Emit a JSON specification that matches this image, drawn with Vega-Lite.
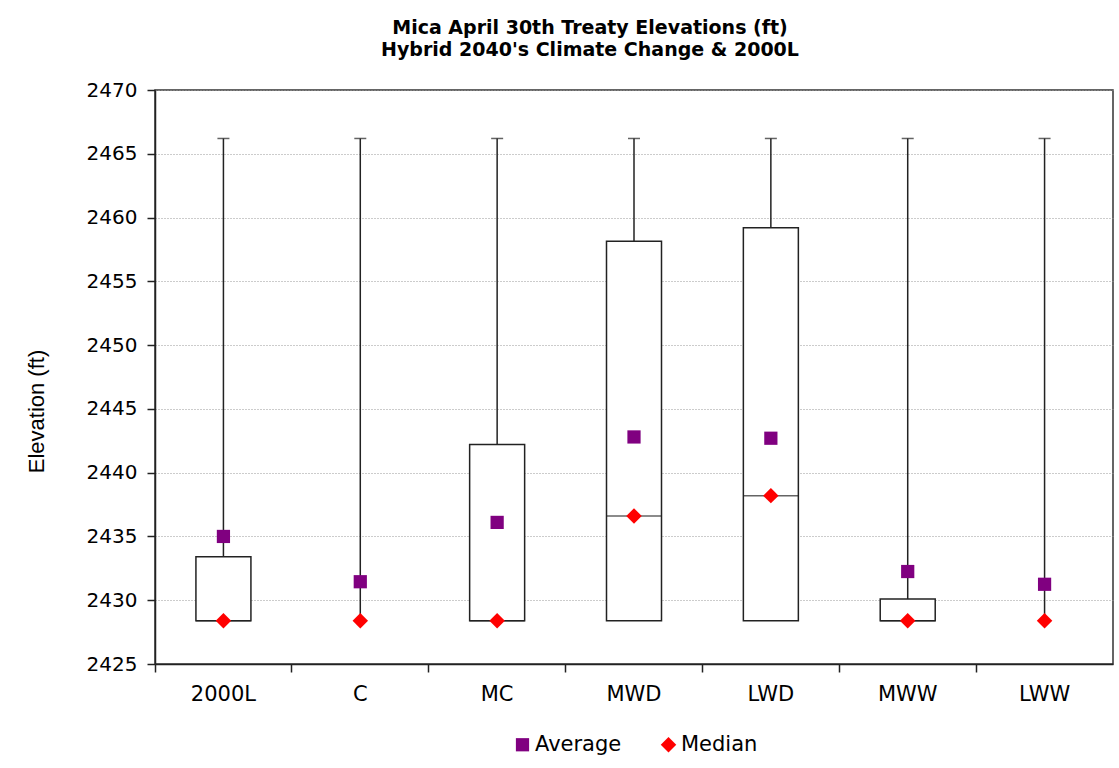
{
  "$schema": "https://vega.github.io/schema/vega-lite/v6.json",
  "width": 958,
  "height": 574,
  "autosize": "none",
  "padding": {"left": 155, "top": 90, "right": 6, "bottom": 104},
  "background": "white",
  "config": {"view": {"stroke": "#333", "strokeWidth": 1.5}, "font": "DejaVu Sans"},
  "title": {
    "text": "Mica April 30th Treaty Elevations (ft)",
    "subtitle": "Hybrid 2040's Climate Change & 2000L",
    "font": "DejaVu Sans",
    "subtitleFont": "DejaVu Sans",
    "fontSize": 19,
    "fontWeight": "bold",
    "color": "black",
    "subtitleFontSize": 19,
    "subtitleFontWeight": "bold",
    "subtitleColor": "black",
    "subtitlePadding": 3,
    "anchor": "middle",
    "dx": -44,
    "offset": 20
  },
  "datasets": {
    "stats": [
      {"cat": "2000L", "q1": 2428.4, "q3": 2433.4, "median": 2428.4, "max": 2466.2},
      {"cat": "C", "q1": 2428.4, "q3": 2428.4, "median": 2428.4, "max": 2466.2},
      {"cat": "MC", "q1": 2428.4, "q3": 2442.2, "median": 2428.4, "max": 2466.2},
      {"cat": "MWD", "q1": 2428.4, "q3": 2458.15, "median": 2436.6, "max": 2466.2},
      {"cat": "LWD", "q1": 2428.4, "q3": 2459.2, "median": 2438.2, "max": 2466.2},
      {"cat": "MWW", "q1": 2428.4, "q3": 2430.1, "median": 2428.4, "max": 2466.2},
      {"cat": "LWW", "q1": 2428.4, "q3": 2428.4, "median": 2428.4, "max": 2466.2}
    ],
    "points": [
      {"cat": "2000L", "stat": "Average", "value": 2435.0},
      {"cat": "C", "stat": "Average", "value": 2431.45},
      {"cat": "MC", "stat": "Average", "value": 2436.1},
      {"cat": "MWD", "stat": "Average", "value": 2442.8},
      {"cat": "LWD", "stat": "Average", "value": 2442.7},
      {"cat": "MWW", "stat": "Average", "value": 2432.25},
      {"cat": "LWW", "stat": "Average", "value": 2431.25},
      {"cat": "2000L", "stat": "Median", "value": 2428.4},
      {"cat": "C", "stat": "Median", "value": 2428.4},
      {"cat": "MC", "stat": "Median", "value": 2428.4},
      {"cat": "MWD", "stat": "Median", "value": 2436.6},
      {"cat": "LWD", "stat": "Median", "value": 2438.2},
      {"cat": "MWW", "stat": "Median", "value": 2428.4},
      {"cat": "LWW", "stat": "Median", "value": 2428.4}
    ]
  },
  "encoding": {
    "x": {
      "field": "cat",
      "type": "nominal",
      "sort": ["2000L", "C", "MC", "MWD", "LWD", "MWW", "LWW"],
      "scale": {"paddingInner": 0, "paddingOuter": 0},
      "axis": {
        "title": null,
        "labelAngle": 0,
        "labelFont": "DejaVu Sans",
        "labelFontSize": 21,
        "labelColor": "black",
        "labelPadding": 11,
        "tickSize": 8,
        "tickColor": "#222",
        "tickWidth": 1.5,
        "bandPosition": 0,
        "domainColor": "#222",
        "domainWidth": 1.5,
        "grid": false
      }
    }
  },
  "layer": [
    {
      "data": {"name": "stats"},
      "mark": {"type": "rule", "color": "#222", "strokeWidth": 1.5},
      "encoding": {
        "y": {
          "field": "q3",
          "type": "quantitative",
          "title": "Elevation (ft)",
          "scale": {"domain": [2425, 2470], "nice": false, "zero": false},
          "axis": {
            "values": [2425, 2430, 2435, 2440, 2445, 2450, 2455, 2460, 2465, 2470],
            "format": "d",
            "labelFont": "DejaVu Sans",
            "labelFontSize": 20,
            "labelColor": "black",
            "labelPadding": 10,
            "tickSize": 8,
            "tickColor": "#222",
            "tickWidth": 1.5,
            "domainColor": "#222",
            "domainWidth": 1.5,
            "grid": true,
            "gridColor": "#999",
            "gridDash": [1, 2],
            "gridWidth": 1,
            "titleFont": "Liberation Sans",
            "titleFontSize": 22,
            "titleFontWeight": "normal",
            "titleColor": "black",
            "titlePadding": 38,
            "titleY": 321
          }
        },
        "y2": {"field": "max"}
      }
    },
    {
      "data": {"name": "stats"},
      "mark": {"type": "tick", "color": "#222", "size": 12, "thickness": 1.5, "orient": "horizontal"},
      "encoding": {
        "y": {"field": "max", "type": "quantitative", "title": "Elevation (ft)"}
      }
    },
    {
      "data": {"name": "stats"},
      "transform": [{"filter": "datum.q3 > datum.q1"}],
      "mark": {"type": "bar", "fill": "white", "stroke": "#222", "strokeWidth": 1.5, "width": 55},
      "encoding": {
        "y": {"field": "q1", "type": "quantitative", "title": "Elevation (ft)"},
        "y2": {"field": "q3"}
      }
    },
    {
      "data": {"name": "stats"},
      "transform": [{"filter": "datum.q3 > datum.q1"}],
      "mark": {"type": "tick", "color": "#222", "size": 55, "thickness": 1.5, "orient": "horizontal"},
      "encoding": {
        "y": {"field": "median", "type": "quantitative", "title": "Elevation (ft)"}
      }
    },
    {
      "data": {"name": "points"},
      "mark": {"type": "point", "filled": true, "opacity": 1},
      "encoding": {
        "y": {"field": "value", "type": "quantitative", "title": "Elevation (ft)"},
        "size": {
          "field": "stat",
          "type": "nominal",
          "scale": {"domain": ["Average", "Median"], "range": [175, 240]},
          "legend": null
        },
        "color": {
          "field": "stat",
          "type": "nominal",
          "scale": {"domain": ["Average", "Median"], "range": ["#800080", "#FF0000"]},
          "legend": {
            "title": null,
            "orient": "none",
            "legendX": 357,
            "legendY": 644,
            "direction": "horizontal",
            "labelFont": "DejaVu Sans",
            "labelFontSize": 21,
            "labelColor": "black",
            "symbolSize": 170,
            "symbolStrokeWidth": 0,
            "columnPadding": 36,
            "labelOffset": 2
          }
        },
        "shape": {
          "field": "stat",
          "type": "nominal",
          "scale": {"domain": ["Average", "Median"], "range": ["square", "diamond"]}
        }
      }
    }
  ]
}
